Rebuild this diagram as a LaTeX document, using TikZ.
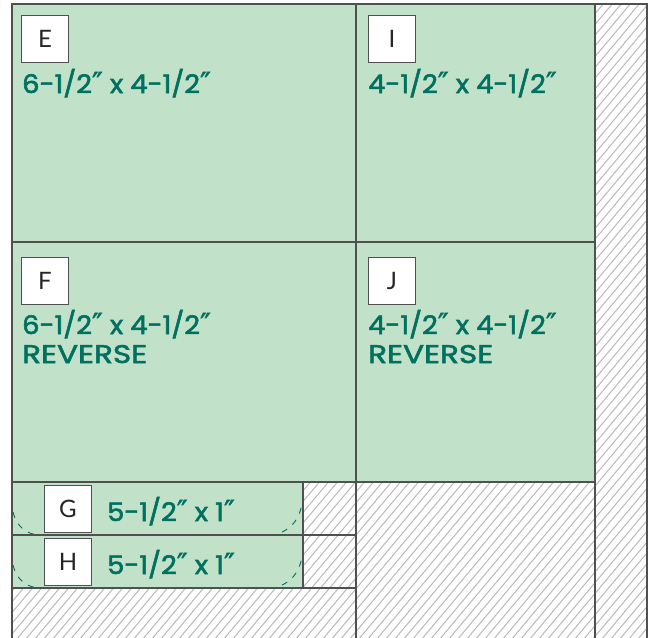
\documentclass[tikz,border=0pt]{standalone}
\usepackage{fontspec}
\setmainfont{Lato}
\newfontfamily\dimfont{Poppins}[FakeBold=2.2, FakeStretch=1.07]
\newfontfamily\revfont{Poppins}[FakeBold=2.2, FakeStretch=1.22]
\newfontfamily\dqfont{DejaVu Sans}[FakeBold=1.4]
\usetikzlibrary{positioning}
\definecolor{piecegreen}{RGB}{193,225,201}
\definecolor{dimteal}{RGB}{0,112,96}
\definecolor{edgegray}{RGB}{80,80,80}
\definecolor{hatchgray}{RGB}{185,185,185}

\tikzset{
  piece/.style={fill=piecegreen},
  edge/.style={draw=edgegray, line width=1.2pt},
  letterbox/.style={draw=edgegray, fill=white, line width=0.9pt, minimum size=47pt,
    inner sep=0pt, anchor=north west, text=black!85, font=\fontsize{24}{24}\selectfont},
  dimtext/.style={text=dimteal, anchor=base west, inner sep=0pt,
    font=\dimfont\fontsize{25.5}{30}\selectfont},
  revtext/.style={dimtext, font=\revfont\fontsize{25.5}{30}\selectfont},
  seam/.style={draw=dimteal, line width=0.9pt, dash pattern=on 6pt off 7pt}
}

\newcommand{\dq}{{\dqfont\fontsize{29}{30}\selectfont\char"2033}}

\begin{document}
\begin{tikzpicture}[x=1pt,y=-1pt]
  \useasboundingbox (0,0) rectangle (649,638);

  % hatched background
  \begin{scope}
    \clip (12,4) rectangle (647,638);
    \foreach \x in {-560,-551,...,650}
      \draw[hatchgray, line width=1pt] (\x,640) -- ++(560,-668);
  \end{scope}

  % pieces
  \fill[piece] (12,4) rectangle (595,482);
  \fill[piece] (12,482) rectangle (303,588);

  % seams on G and H
  \foreach \dy in {0,53} {
    \draw[seam] (13,512+\dy) .. controls (17,527+\dy) and (26,534+\dy) .. (39,535+\dy);
    \draw[seam] (303,495+\dy) .. controls (302,517+\dy) and (292,531+\dy) .. (273,535+\dy);
  }

  % cut lines
  \draw[edge] (12,638) -- (12,4) -- (647,4) -- (647,638);
  \draw[edge] (356,4) -- (356,638);
  \draw[edge] (595,4) -- (595,638);
  \draw[edge] (12,242) -- (595,242);
  \draw[edge] (12,482) -- (595,482);
  \draw[edge] (12,535) -- (356,535);
  \draw[edge] (12,588) -- (356,588);
  \draw[edge] (303,482) -- (303,588);

  % labels
  \node[letterbox] (E) at (21,15) {E};
  \node[letterbox] (I) at (368,15) {I};
  \node[letterbox] (F) at (21,257) {F};
  \node[letterbox] (J) at (368,257) {J};
  \node[letterbox] (G) at (44,485) {G};
  \node[letterbox] (H) at (44,538) {H};

  \node[dimtext] (Edim) at (22,93) {6-1/2\dq{} x 4-1/2\dq};
  \node[dimtext] (Idim) at (368,93) {4-1/2\dq{} x 4-1/2\dq};
  \node[dimtext] (Fdim) at (22,334) {6-1/2\dq{} x 4-1/2\dq};
  \node[revtext] (Frev) at (22,363) {REVERSE};
  \node[dimtext] (Jdim) at (368,334) {4-1/2\dq{} x 4-1/2\dq};
  \node[revtext] (Jrev) at (368,363) {REVERSE};
  \node[dimtext] (Gdim) at (107,521) {5-1/2\dq{} x 1\dq};
  \node[dimtext] (Hdim) at (107,574) {5-1/2\dq{} x 1\dq};
\end{tikzpicture}
\end{document}
